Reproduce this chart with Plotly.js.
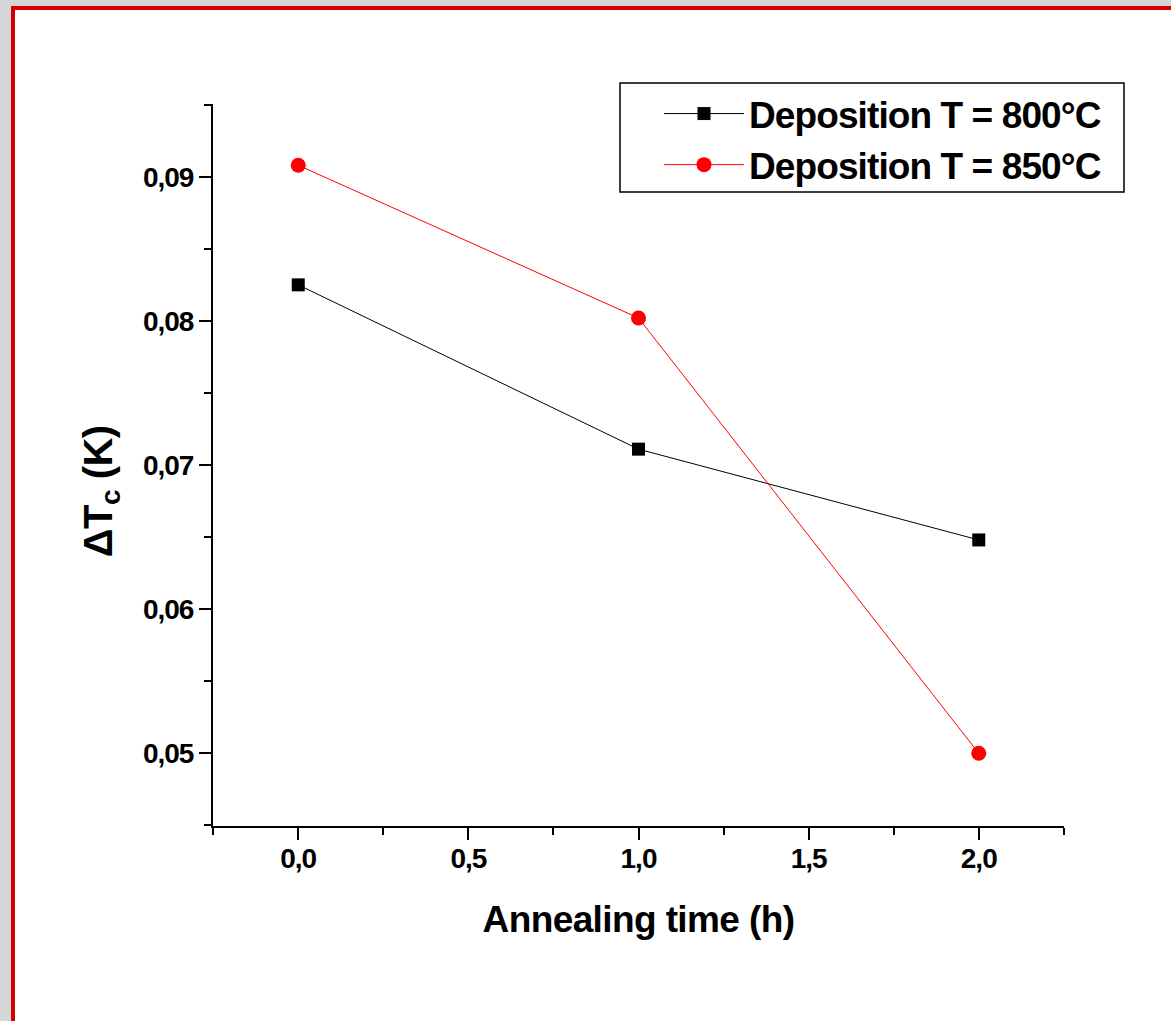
<!DOCTYPE html>
<html>
<head>
<meta charset="utf-8">
<script src="https://cdn.plot.ly/plotly-3.0.1.min.js"></script>
<style>
  html, body { margin: 0; padding: 0; }
  body { width: 1171px; height: 1021px; background: #d6d6d6; position: relative; overflow: hidden; }
  #frame { position: absolute; left: 11px; top: 6px; right: 0; bottom: 0; background: #ffffff;
           border-left: 4px solid #d40000; border-top: 4px solid #d40000; }
  #chart { position: absolute; left: 0; top: 0; width: 1171px; height: 1021px; }
  #chart .xtick text, #chart .ytick text { letter-spacing: -1px; }
  #chart .xtitle { letter-spacing: -0.6px; }
  #chart .annotation-text { letter-spacing: -0.5px; }
  #chart .legendtext { letter-spacing: -0.9px; }
</style>
</head>
<body>
<div id="frame"></div>
<div id="chart"></div>
<script>
// Data
const annealingTime = [0, 1, 2];
const deltaTc800 = [0.0825, 0.0711, 0.0648];
const deltaTc850 = [0.0908, 0.0802, 0.0500];
const seriesNames = ['Deposition T = 800°C', 'Deposition T = 850°C'];
const xTitle = 'Annealing time (h)';
const yTitle = 'ΔT<sub>c</sub> (K)';

const FONT = '"Liberation Sans", Arial, sans-serif';
const W = 1171, H = 1021;
const M = { l: 213, r: 107, t: 104, b: 195 };
const PW = W - M.l - M.r, PH = H - M.t - M.b;
// pixel positions converted to paper fractions (layout only)
const px = v => (v - M.l) / PW;
const py = v => (H - M.b - v) / PH;

const traces = [
  {
    x: annealingTime, y: deltaTc800, name: seriesNames[0],
    type: 'scatter', mode: 'lines+markers',
    line: { color: '#000000', width: 1 },
    marker: { symbol: 'square', size: 13, color: '#000000' }
  },
  {
    x: annealingTime, y: deltaTc850, name: seriesNames[1],
    type: 'scatter', mode: 'lines+markers',
    line: { color: '#ff0000', width: 1 },
    marker: { symbol: 'circle', size: 15, color: '#ff0000' }
  }
];

const axisCommon = {
  showline: true, linecolor: '#000', linewidth: 2,
  showgrid: false, zeroline: false,
  ticks: 'outside', ticklen: 12, tickwidth: 2, tickcolor: '#000',
  tickfont: { family: FONT, size: 28, color: '#000', weight: 'bold' },
  automargin: false
};

const layout = {
  width: W, height: H,
  paper_bgcolor: 'rgba(0,0,0,0)', plot_bgcolor: 'rgba(0,0,0,0)',
  margin: Object.assign({ autoexpand: false }, M),
  separators: ', ',
  showlegend: true,
  font: { family: FONT, color: '#000' },
  xaxis: Object.assign({}, axisCommon, {
    range: [-0.2505, 2.2505],
    tick0: 0, dtick: 0.5, tickformat: '.1f',
    minor: { ticks: 'outside', ticklen: 7, tickwidth: 2, tickcolor: '#000', dtick: 0.25, tick0: 0, showgrid: false },
    ticklabelstandoff: -6,
    title: { text: xTitle, font: { family: FONT, size: 37, color: '#000', weight: 'bold' }, standoff: 34 }
  }),
  yaxis: Object.assign({}, axisCommon, {
    range: [0.04495, 0.09505],
    tick0: 0, dtick: 0.01, tickformat: '.2f',
    minor: { ticks: 'outside', ticklen: 7, tickwidth: 2, tickcolor: '#000', dtick: 0.005, tick0: 0, showgrid: false },
    ticklabelstandoff: 0
  }),
  annotations: [
    { text: yTitle, xref: 'paper', yref: 'paper', x: px(101), y: py(492),
      xanchor: 'center', yanchor: 'middle', textangle: -90, showarrow: false,
      font: { family: FONT, size: 40, color: '#000', weight: 'bold' } }
  ],
  legend: {
    x: 1124 / W, xref: 'container', xanchor: 'right',
    y: 1 - 83 / H, yref: 'container', yanchor: 'top',
    borderwidth: 0, bgcolor: 'rgba(0,0,0,0)',
    font: { family: FONT, size: 37, color: '#000', weight: 'bold' },
    itemwidth: 80, tracegroupgap: 0
  },
  shapes: [
    { type: 'rect', xref: 'paper', yref: 'paper',
      x0: px(620), x1: px(1124), y0: py(192), y1: py(83),
      line: { color: '#000', width: 1.5 }, fillcolor: 'rgba(0,0,0,0)', layer: 'below' }
  ]
};

Plotly.newPlot('chart', traces, layout, { displayModeBar: false, staticPlot: true });
</script>
</body>
</html>
